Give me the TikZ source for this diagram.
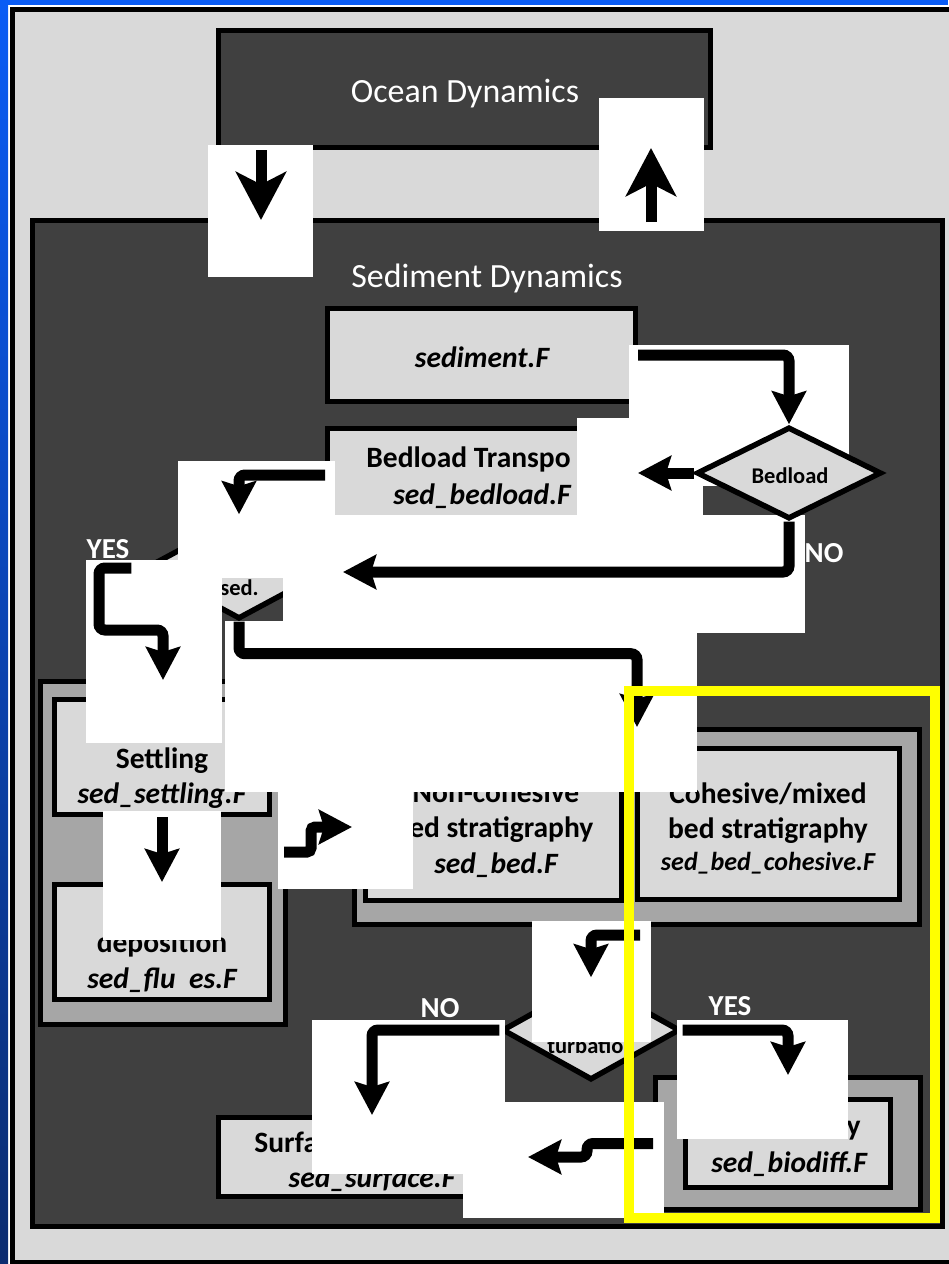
\documentclass[tikz,border=0pt]{standalone}
\usepackage{fontspec}
\setmainfont{Carlito}
\usetikzlibrary{arrows.meta, positioning, shapes.geometric, fit}

\definecolor{darkfill}{HTML}{404040}
\definecolor{lightfill}{HTML}{D9D9D9}
\definecolor{midfill}{HTML}{A6A6A6}
\definecolor{edgeblue}{HTML}{0A5CF5}
\definecolor{edgenavy}{HTML}{0C2C70}
\definecolor{hiyellow}{HTML}{FFFF00}

\begin{document}
\begin{tikzpicture}[
    x=0.02cm, y=-0.02cm,
    backdrop/.style={draw, line width=0.1cm, fill=lightfill, inner sep=0},
    panel/.style={draw, line width=0.1cm, fill=darkfill, inner sep=0},
    grpbox/.style={draw, line width=0.1cm, fill=midfill, inner sep=0},
    block/.style={draw, line width=0.1cm, fill=lightfill, inner sep=0},
    choice/.style={diamond, draw, line width=0.11cm, fill=lightfill, inner sep=0},
    patch/.style={fill=white, inner sep=0},
    heading/.style={text=white, inner sep=0, font=\fontsize{19.3}{23}\selectfont},
    boxtext/.style={inner sep=0, font=\fontsize{16.8}{20}\selectfont\bfseries},
    filetext/.style={inner sep=0, font=\fontsize{16.8}{20}\selectfont\bfseries\itshape},
    smalltext/.style={inner sep=0, font=\fontsize{12.8}{15}\selectfont\bfseries},
    yesno/.style={text=white, inner sep=0, font=\fontsize{16.5}{20}\selectfont\bfseries},
    flow/.style={line width=0.22cm, rounded corners=0.12cm,
      -{Stealth[length=0.66cm, width=0.68cm, inset=0.1cm]}},
    link/.style={line width=0.22cm, -{Stealth[length=0.96cm, width=1cm, inset=0.25cm]}},
    hilite/.style={draw=hiyellow, line width=0.21cm, inner sep=0}
]
\useasboundingbox (0,0) rectangle (948,1264);

% page edge
\fill[white] (0,0) rectangle (948,1264);
\shade[top color=edgeblue, bottom color=edgenavy] (0,0) rectangle (8,1264);
\fill[edgeblue] (0,0) rectangle (948,5);
\node[backdrop, fit={(12.5,10) (955,1262)}] (page) {};

% the two models
\node[panel, fit={(218.5,30.5) (710.5,147.5)}] (ocean) {};
\node[heading, anchor=base] (oceanText) at (465,103) {Ocean Dynamics};
\node[panel, fit={(32.5,220.5) (942.5,1226.5)}] (sediment) {};
\node[heading, anchor=base] (sedimentText) at (487,287) {Sediment Dynamics};

% driver and bedload
\node[block, fit={(327.5,308.5) (635.5,401.5)}] (sedF) {};
\node[filetext, anchor=base] (sedFfile) at (482,367) {sediment.F};
\node[block, fit={(327.5,428.5) (635.5,521.5)}] (bedT) {};
\node[boxtext, anchor=base west] (bedTname) at (366,467) {Bedload Transpo};
\node[filetext, anchor=base] (bedTfile) at (482,504) {sed\_bedload.F};

\node[choice, minimum width=3.76cm, minimum height=2.04cm] (suspQ) at (239,568) {};
\node[smalltext, anchor=base west] (suspQtext) at (220,595) {sed.};

% settling and deposition
\node[grpbox, fit={(40.5,681.5) (285.5,1024.5)}] (settleGrp) {};
\node[block, fit={(54.5,699.5) (269.5,814.5)}] (settle) {};
\node[boxtext, anchor=base] (settleName) at (162,768) {Settling};
\node[filetext, anchor=base] (settleFile) at (162,803) {sed\_settling.F};
\node[block, fit={(54.5,884.5) (269.5,999.5)}] (depo) {};
\node[boxtext, anchor=base] (depoName) at (162,952) {deposition};
\node[filetext, anchor=base] (depoFile) at (162,988) {sed\_flu\phantom{x}es.F};

% bed stratigraphy
\node[grpbox, fit={(354.5,729.5) (919.5,924.5)}] (stratGrp) {};
\node[block, fit={(365,749) (621,900)}] (noncoh) {};
\node[boxtext, anchor=base] (noncohName) at (496,802) {Non-cohesive};
\node[boxtext, anchor=base west] (noncohSub) at (409,837) {ed stratigraphy};
\node[filetext, anchor=base] (noncohFile) at (496,873) {sed\_bed.F};
\node[block, fit={(637.5,748.5) (899.5,899.5)}] (coh) {};
\node[boxtext, anchor=base] (cohName) at (768,803) {Cohesive/mixed};
\node[boxtext, anchor=base] (cohSub) at (768,838) {bed stratigraphy};
\node[filetext, anchor=base, font=\fontsize{14.8}{18}\selectfont\bfseries\itshape]
  (cohFile) at (768,870) {sed\_bed\_cohesive.F};

% bioturbation and surface
\node[choice, minimum width=3.56cm, minimum height=2cm] (bioQ) at (591,1030) {};
\node[smalltext, anchor=base west] (bioQtext) at (547,1053) {turbatio};
\node[block, fit={(218.5,1117.5) (525.5,1196.5)}] (surf) {};
\node[boxtext, anchor=base west] (surfName) at (254,1152) {Surfa};
\node[filetext, anchor=base] (surfFile) at (372,1187) {sed\_surface.F};
\node[grpbox, fit={(655.5,1077.5) (920.5,1209.5)}] (bioGrp) {};
\node[block, fit={(685.5,1099.5) (890.5,1187.5)}] (biodiff) {};
\node[boxtext, anchor=base east] (biodiffName) at (861,1135) {y};
\node[filetext, anchor=base] (biodiffFile) at (789,1172) {sed\_biodiff.F};

% white backing of the arrows
\node[patch, fit={(208,145) (313,277)}] (pDown) {};
\node[patch, fit={(599,98) (704,231)}] (pUp) {};
\node[patch, fit={(629,345) (849,486)}] (pToBed) {};
\node[patch, fit={(577,418) (703,515)}] (pBedLeft) {};
\node[patch, fit={(178,461) (335,578)}] (pToSusp) {};
\node[patch, fit={(86,560) (222,743)}] (pYes) {};
\node[patch, fit={(283,515) (805,633)}] (pNo) {};
\node[patch, fit={(225,621) (697,792)}] (pToStrat) {};
\node[patch, fit={(103,811) (221,940)}] (pToDepo) {};
\node[patch, fit={(278,792) (413,889)}] (pStep) {};
\node[patch, fit={(532,921) (651,1042)}] (pToBio) {};
\node[patch, fit={(312,1020) (505,1174)}] (pNoBio) {};
\node[patch, fit={(463,1102) (664,1218)}] (pBack) {};
\node[patch, fit={(677,1020) (848,1139)}] (pYesBio) {};

\node[choice, minimum width=3.7cm, minimum height=1.84cm] (bedQ) at (789,473) {};
\node[smalltext, anchor=base] (bedQtext) at (790,483) {Bedload};

% arrows
\coordinate (dnTop) at (261,150);
\coordinate (dnTip) at (261,220);
\coordinate (upFoot) at (651,222);
\coordinate (upTip) at (651,148);
\coordinate (noTip) at (343,572);
\coordinate (yesBend) at (99,630);
\coordinate (yesTip) at (163,680);
\coordinate (stepFoot) at (284,852);
\coordinate (stepBend) at (311,852);
\coordinate (bioStart) at (640,935);

\draw[link] (dnTop) -- (dnTip);
\draw[link] (upFoot) -- (upTip);
\draw[flow] (sedF.east) -| (bedQ.north);
\draw[flow] (bedQ.west) -- (bedQ.west -| bedT.east);
\draw[flow] (bedT.west) -| (suspQ.north);
\draw[flow] (bedQ.south) |- (noTip);
\draw[flow] ([shift={(-11,0)}]suspQ.west) -| (yesBend) -| (yesTip);
\draw[flow] (suspQ.south) -- ++(0,32) -| (stratGrp.north);
\draw[flow] (settle.south) -- (depo.north);
\draw[flow, rounded corners=0.08cm] (stepFoot) -- (stepBend) |- (stratGrp.west);
\draw[flow] (bioStart) -| (bioQ.north);
\draw[flow] (bioQ.west) -| (surf.north);
\draw[flow] (bioQ.east) -| (bioGrp.north);
\draw[flow] (bioGrp.west) -- ++(-66,0) |- (surf.east);

\node[yesno, anchor=base] (yesTop) at (108,558) {YES};
\node[yesno, anchor=base] (noTop) at (824,562) {NO};
\node[yesno, anchor=base] (noBottom) at (440,1017) {NO};
\node[yesno, anchor=base] (yesBottom) at (730,1015) {YES};

% highlight
\node[hilite, fit={(629,691) (935,1218)}] (focus) {};
\end{tikzpicture}
\end{document}
